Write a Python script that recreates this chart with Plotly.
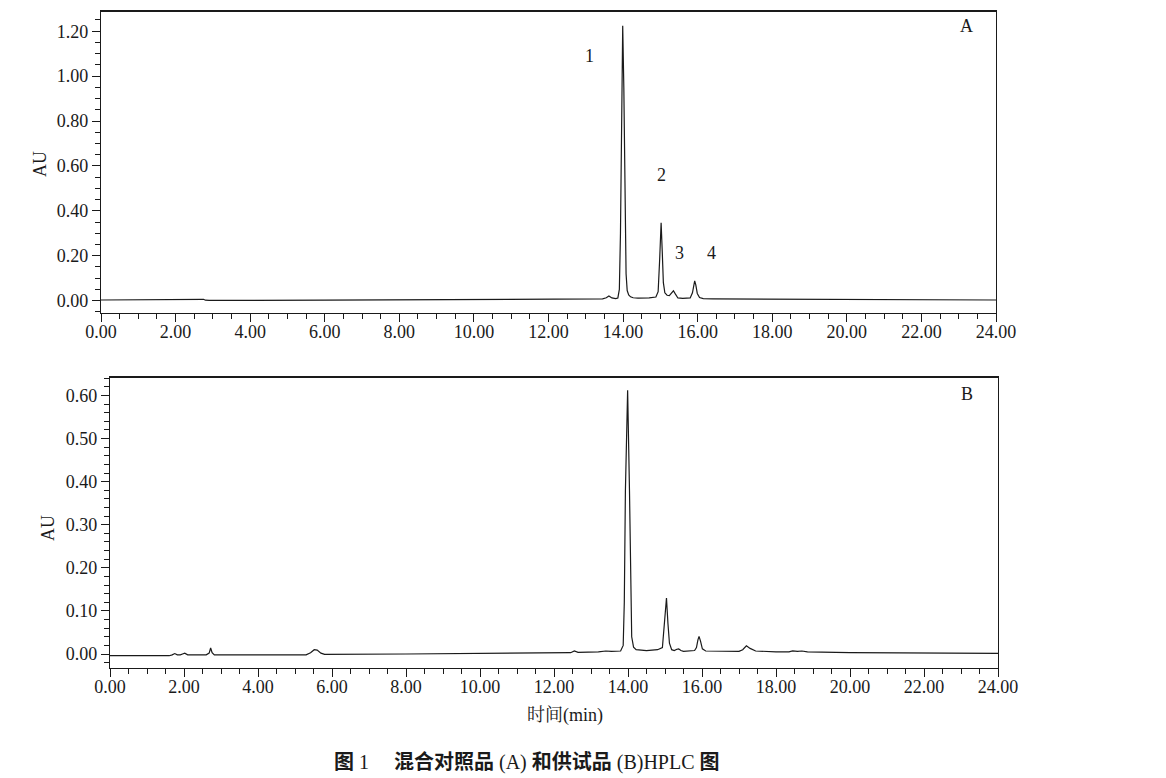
import plotly.graph_objects as go

# ---------------- data ----------------
# Panel A: mixed reference standards
a_time = [0.00, 2.60, 2.70, 2.75, 2.80, 2.90, 6.00, 10.00, 12.00, 13.00, 13.45, 13.55,
          13.62, 13.70, 13.80, 13.86, 13.90, 13.93, 13.96, 13.99, 14.02, 14.05, 14.08,
          14.11, 14.15, 14.20, 14.27, 14.40, 14.70, 14.88, 14.94, 14.98, 15.02, 15.05,
          15.08, 15.12, 15.18, 15.24, 15.30, 15.35, 15.40, 15.47, 15.60, 15.80, 15.86,
          15.89, 15.92, 15.95, 15.99, 16.05, 16.15, 16.40, 18.00, 20.00, 24.00]
a_au = [0.003, 0.003, 0.005, 0.006, 0.002, 0.001, 0.002, 0.004, 0.006, 0.007, 0.008, 0.013,
        0.021, 0.012, 0.009, 0.012, 0.050, 0.300, 0.850, 1.224, 0.950, 0.450, 0.120,
        0.045, 0.025, 0.017, 0.013, 0.011, 0.012, 0.016, 0.040, 0.180, 0.347, 0.220,
        0.080, 0.035, 0.024, 0.022, 0.034, 0.044, 0.030, 0.012, 0.010, 0.012, 0.035,
        0.068, 0.088, 0.070, 0.032, 0.014, 0.009, 0.008, 0.007, 0.005, 0.003]

# Panel B: test sample
b_time = [0.00, 1.60, 1.68, 1.75, 1.82, 1.90, 1.96, 2.02, 2.10, 2.60, 2.68, 2.72, 2.76, 2.82,
          5.30, 5.42, 5.52, 5.60, 5.70, 5.80, 8.00, 12.00, 12.45, 12.55, 12.65, 13.20,
          13.40, 13.55, 13.80, 13.87, 13.90, 13.93, 13.99, 14.04, 14.07, 14.10, 14.15,
          14.22, 14.50, 14.80, 14.93, 14.98, 15.04, 15.08, 15.12, 15.18, 15.25, 15.32,
          15.37, 15.43, 15.50, 15.80, 15.85, 15.89, 15.92, 15.96, 16.01, 16.10, 16.50,
          17.00, 17.10, 17.20, 17.30, 17.45, 18.00, 18.35, 18.45, 18.58, 18.70, 18.85,
          20.00, 24.00]
b_au = [-0.004, -0.004, -0.002, 0.001, -0.002, -0.002, 0.000, 0.002, -0.002, -0.002, 0.002,
        0.014, 0.003, -0.002, -0.002, 0.003, 0.010, 0.009, 0.002, -0.001, 0.000, 0.003,
        0.003, 0.007, 0.004, 0.005, 0.007, 0.006, 0.007, 0.020, 0.120, 0.380, 0.612,
        0.380, 0.150, 0.040, 0.016, 0.010, 0.008, 0.010, 0.015, 0.060, 0.130, 0.070,
        0.025, 0.010, 0.008, 0.011, 0.012, 0.008, 0.006, 0.008, 0.015, 0.033, 0.041,
        0.030, 0.012, 0.007, 0.006, 0.006, 0.010, 0.019, 0.013, 0.007, 0.005, 0.005,
        0.007, 0.006, 0.007, 0.005, 0.003, 0.0015]

peak_labels = ["1", "2", "3", "4"]
x_ticks = [0, 2, 4, 6, 8, 10, 12, 14, 16, 18, 20, 22, 24]
a_yticks = [0.0, 0.2, 0.4, 0.6, 0.8, 1.0, 1.2]
b_yticks = [0.0, 0.1, 0.2, 0.3, 0.4, 0.5, 0.6]

# ---------------- figure ----------------
W, H = 1166, 778
SERIF = "Liberation Serif, Times New Roman, serif"
CJK_SERIF = "Liberation Serif, Noto Serif CJK SC, Noto Sans CJK SC, serif"
INK = "#1a1a1a"

def px_x(p):
    return p / W

def px_y(p):
    return 1 - p / H

fig = go.Figure()
fig.add_trace(go.Scatter(x=a_time, y=a_au, mode="lines", xaxis="x", yaxis="y",
                         line=dict(color=INK, width=1.2), showlegend=False, hoverinfo="skip"))
fig.add_trace(go.Scatter(x=b_time, y=b_au, mode="lines", xaxis="x2", yaxis="y2",
                         line=dict(color=INK, width=1.2), showlegend=False, hoverinfo="skip"))

tickfont = dict(family=SERIF, size=18, color=INK)

def xaxis_cfg(domain, anchor):
    return dict(domain=domain, anchor=anchor, range=[0, 24], tickvals=x_ticks,
                ticktext=[f"{v:.2f}" for v in x_ticks], ticks="outside", ticklen=8,
                tickwidth=1, tickcolor=INK, showline=True, linecolor=INK, linewidth=1.2,
                mirror=True, showgrid=False, zeroline=False, tickfont=tickfont,
                automargin=False, ticklabelstandoff=-6,
                minor=dict(dtick=0.5, tick0=0, ticks="outside", ticklen=5, tickcolor=INK,
                           tickwidth=1, showgrid=False))

def yaxis_cfg(domain, anchor, rng, vals, mdt):
    return dict(domain=domain, anchor=anchor, range=rng, tickvals=vals,
                ticktext=[f"{v:.2f}" for v in vals], ticks="outside", ticklen=8,
                tickwidth=1, tickcolor=INK, showline=True, linecolor=INK, linewidth=1.2,
                mirror=True, showgrid=False, zeroline=False, tickfont=tickfont,
                automargin=False,
                minor=dict(dtick=mdt, tick0=0, ticks="outside", ticklen=5, tickcolor=INK,
                           tickwidth=1, showgrid=False))

fig.update_layout(
    width=W, height=H, margin=dict(l=0, r=0, t=0, b=0, autoexpand=False),
    paper_bgcolor="white", plot_bgcolor="white",
    xaxis=xaxis_cfg([px_x(101), px_x(996)], "y"),
    yaxis=yaxis_cfg([px_y(313), px_y(11)], "x", [-0.055, 1.29], a_yticks, 0.05),
    xaxis2=xaxis_cfg([px_x(110), px_x(998)], "y2"),
    yaxis2=yaxis_cfg([px_y(668), px_y(377)], "x2", [-0.0325, 0.643], b_yticks, 0.02),
)

# thicker top border lines
for dom_x, ytop in (([101, 996], 11), ([110, 998], 377)):
    fig.add_shape(type="line", xref="paper", yref="paper",
                  x0=px_x(dom_x[0]), x1=px_x(dom_x[1]), y0=px_y(ytop), y1=px_y(ytop),
                  line=dict(color=INK, width=2.2))

def note(text, x, y, size=18, family=SERIF, angle=0, xref="paper", yref="paper"):
    return dict(text=text, x=x, y=y, xref=xref, yref=yref, xanchor="center",
                yanchor="middle", textangle=angle, showarrow=False,
                font=dict(family=family, size=size, color=INK))

ann = []
# axis titles
ann.append(note("AU", px_x(40), px_y(164), angle=-90))
ann.append(note("AU", px_x(48), px_y(528), angle=-90))
ann.append(note("时间(min)", px_x(565), px_y(715), size=18, family=CJK_SERIF))
# panel letters
ann.append(note("A", px_x(966.5), px_y(26.5)))
ann.append(note("B", px_x(966.5), px_y(394)))
# peak labels (panel A, data coordinates)
label_pos = [(13.09, 1.089), (15.02, 0.559), (15.50, 0.212), (16.36, 0.212)]
for lab, (lx, ly) in zip(peak_labels, label_pos):
    ann.append(note(lab, lx, ly, xref="x", yref="y"))

# caption: bold CJK sans for Chinese, regular serif for Latin
def cjk(t):
    return f'<span style="font-family:Noto Sans CJK SC;font-weight:bold">{t}</span>'

NB = "\u00a0"
caption = (cjk("图") + " 1" + NB * 5 + cjk("混合对照品") + " (A) " + cjk("和供试品")
           + " (B)HPLC " + cjk("图"))
ann.append(note(caption, px_x(527), px_y(760), size=20, family=SERIF))
fig.update_layout(annotations=ann)

fig.write_html("out.html", config={"displayModeBar": False},
               post_script="document.body.style.margin='0';")
